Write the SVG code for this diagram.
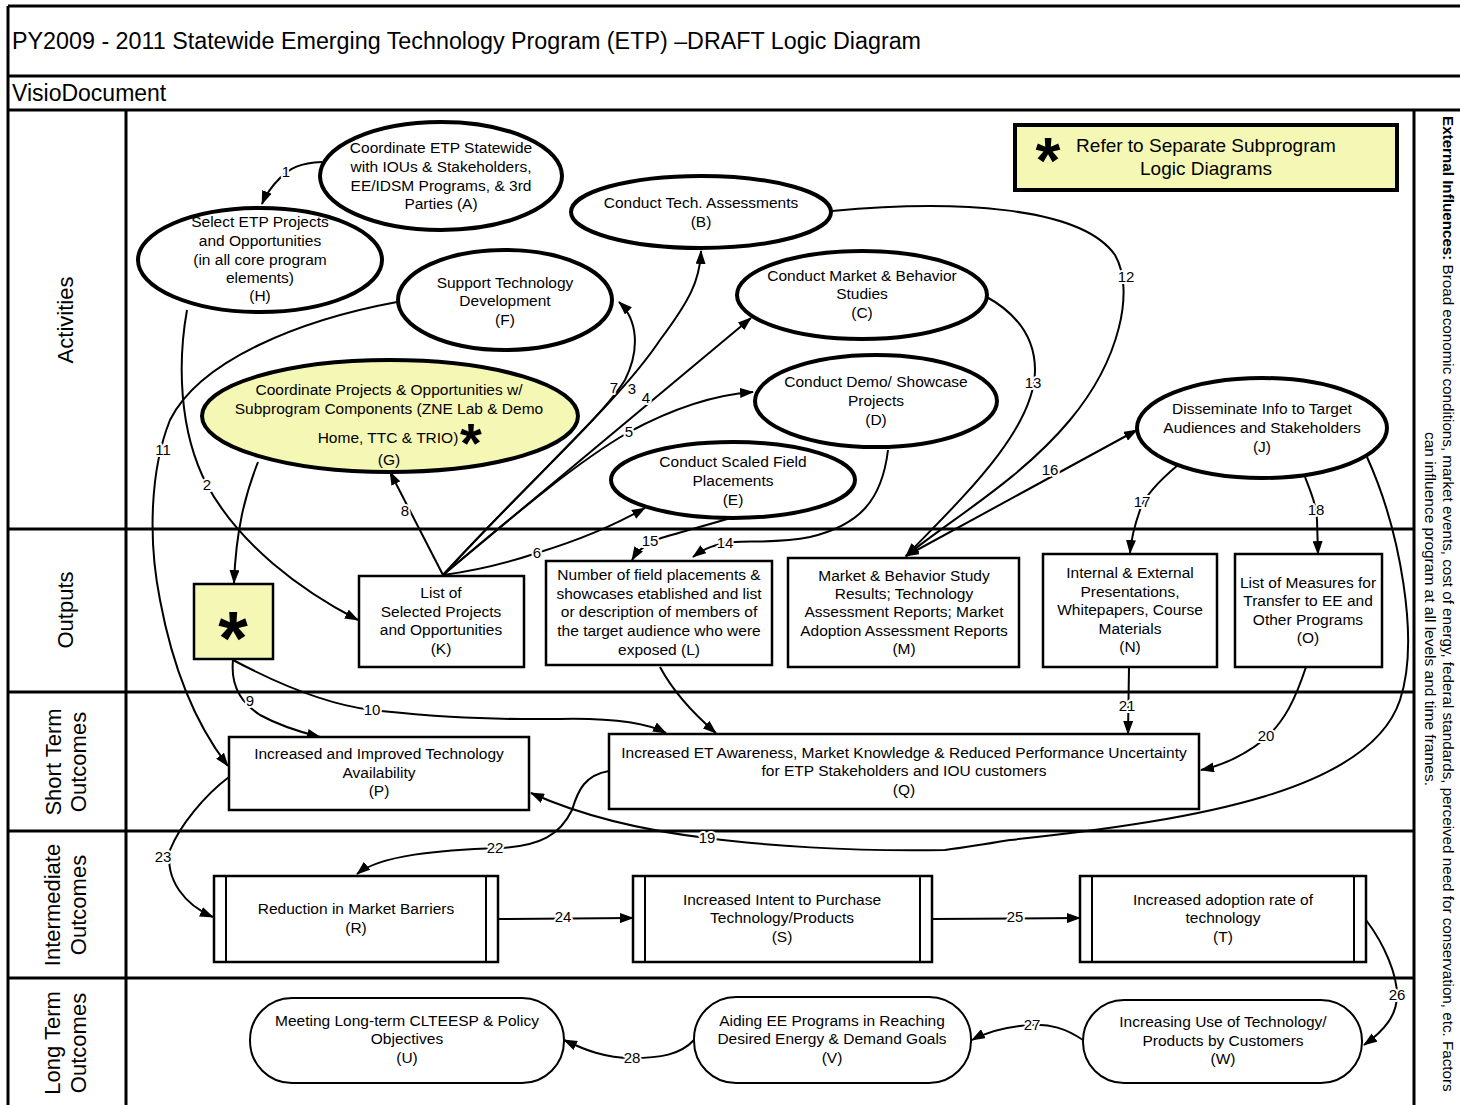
<svg xmlns="http://www.w3.org/2000/svg" width="1460" height="1105" viewBox="0 0 1460 1105">
<defs>
<marker id="ah" viewBox="0 0 14 10" refX="13" refY="5" markerWidth="14" markerHeight="10" markerUnits="userSpaceOnUse" orient="auto-start-reverse">
<path d="M0,0 L14,5 L0,10 Z" fill="#000"/>
</marker>
<style>
text{font-family:"Liberation Sans",Arial,sans-serif;fill:#000}
.t{font-size:15.5px;text-anchor:middle}
.lane{font-size:22px;text-anchor:middle}
.lbl{font-size:15px;text-anchor:middle;stroke:#fff;stroke-width:4px;paint-order:stroke;stroke-linejoin:round}
.act{fill:#fff;stroke:#000;stroke-width:4}
.yel{fill:#f5f7b5;stroke:#000;stroke-width:4}
.box{fill:#fff;stroke:#000;stroke-width:2.5}
.frame{fill:none;stroke:#000;stroke-width:3}
.c{fill:none;stroke:#000;stroke-width:2}
.ca{fill:none;stroke:#000;stroke-width:2;marker-end:url(#ah)}
.star{font-weight:bold;text-anchor:middle}
</style>
</defs>
<rect width="1460" height="1105" fill="#fff"/>
<!-- frame -->
<g id="frame">
<path class="frame" d="M8,6 H1460 M8,6 V1105 M8,76 H1460 M8,110 H1460 M126,110 V1105 M1414,110 V1105 M8,529 H1414 M8,692 H1414 M8,831 H1414 M8,978 H1414"/>
<text x="12" y="49" style="font-size:23.3px">PY2009 - 2011 Statewide Emerging Technology Program (ETP) –DRAFT Logic Diagram</text>
<text x="12" y="101" style="font-size:23px">VisioDocument</text>
<text class="lane" transform="translate(73,320) rotate(-90)">Activities</text>
<text class="lane" transform="translate(73,610) rotate(-90)">Outputs</text>
<text class="lane" transform="translate(61,762) rotate(-90)">Short Term</text>
<text class="lane" transform="translate(86,762) rotate(-90)">Outcomes</text>
<text class="lane" transform="translate(60,905) rotate(-90)">Intermediate</text>
<text class="lane" transform="translate(86,905) rotate(-90)">Outcomes</text>
<text class="lane" transform="translate(60,1043) rotate(-90)">Long Term</text>
<text class="lane" transform="translate(86,1043) rotate(-90)">Outcomes</text>
<text transform="translate(1443,116) rotate(90)" style="font-size:15.2px"><tspan font-weight="bold">External Influences:</tspan> Broad economic conditions, market events, cost of energy, federal standards, perceived need for conservation, etc. Factors</text>
<text transform="translate(1425,609) rotate(90)" style="font-size:15.5px;text-anchor:middle">can influence program at all levels and time frames.</text>
</g>
<!-- legend -->
<g id="legend">
<rect x="1015" y="125" width="382" height="65" class="yel"/>
<text class="star" x="1048" y="183" style="font-size:64px">*</text>
<text x="1206" y="152" style="font-size:19px;text-anchor:middle">Refer to Separate Subprogram</text>
<text x="1206" y="175" style="font-size:19px;text-anchor:middle">Logic Diagrams</text>
</g>
<!-- connectors -->
<g id="connectors">
<path class="ca" d="M322,162 C300,163 290,168 280,178 C272,186 266,194 262,204"/>
<path class="ca" d="M187,310 C178,360 178,430 207,485 C240,545 300,590 358,620"/>
<path class="ca" d="M443,575 C540,470 620,400 660,340 C690,300 700,280 701,251"/>
<path class="ca" d="M443,575 L751,318"/>
<path class="ca" d="M443,575 C520,510 580,460 629,432 C670,410 710,395 753,392"/>
<path class="ca" d="M443,575 C480,570 510,562 537,553 C580,540 615,525 645,508"/>
<path class="ca" d="M443,575 C530,480 600,420 625,380 C640,350 638,320 619,302"/>
<path class="ca" d="M443,575 L390,472"/>
<path class="ca" d="M233,660 C230,690 245,705 260,715 C280,726 300,732 320,737"/>
<path class="ca" d="M233,660 C280,685 330,705 372,710 C420,715 470,720 560,719 C610,718 645,722 666,733"/>
<path class="ca" d="M258,462 C245,495 236,530 234,583"/>
<path class="ca" d="M397,302 C300,320 200,360 170,420 C150,470 148,540 160,600 C175,680 200,730 228,766"/>
<path class="ca" d="M832,211 C950,200 1080,205 1115,255 C1135,290 1120,360 1070,420 C1020,480 950,520 906,556"/>
<path class="ca" d="M985,296 C1020,315 1035,340 1035,370 C1035,430 960,500 906,556"/>
<path class="ca" d="M888,450 C882,500 860,525 810,537 C780,543 750,541 735,542 C715,544 705,548 693,557"/>
<path class="ca" d="M731,518 C700,527 670,535 655,540 C645,545 638,550 632,560"/>
<path class="ca" style="marker-start:url(#ah)" d="M906,556 L1137,430"/>
<path class="ca" d="M1178,465 C1160,480 1145,495 1140,510 C1133,530 1131,540 1130,553"/>
<path class="ca" d="M1305,477 C1312,495 1316,505 1317,520 L1318,554"/>
<path class="ca" d="M660,667 C675,695 695,715 716,733"/>
<path class="ca" d="M1367,457 C1400,530 1420,640 1400,700 C1370,790 1200,820 1010,840 C980,845 960,848 945,850 C850,852 760,845 707,838 C640,830 580,815 531,793"/>
<path class="ca" d="M1306,667 C1295,700 1285,720 1266,738 C1245,755 1225,765 1201,770"/>
<path class="ca" d="M1129,667 L1128,734"/>
<path class="ca" d="M609,771 C585,775 578,790 572,810 C560,835 540,846 500,848 C440,850 380,855 357,874"/>
<path class="ca" d="M229,777 C205,795 180,825 170,850 C165,880 185,905 213,917"/>
<path class="ca" d="M498,919 L633,918"/>
<path class="ca" d="M932,919 L1080,918"/>
<path class="ca" d="M1366,920 C1385,945 1397,975 1397,995 C1397,1015 1385,1030 1364,1045"/>
<path class="ca" d="M1083,1040 C1065,1028 1050,1024 1032,1025 C1010,1026 990,1030 972,1040"/>
<path class="ca" d="M694,1040 C680,1055 660,1058 632,1058 C605,1058 585,1050 564,1040"/>
<text class="lbl" x="286" y="177">1</text>
<text class="lbl" x="207" y="490">2</text>
<text class="lbl" x="632" y="394">3</text>
<text class="lbl" x="646" y="403">4</text>
<text class="lbl" x="629" y="437">5</text>
<text class="lbl" x="537" y="558">6</text>
<text class="lbl" x="614" y="393">7</text>
<text class="lbl" x="405" y="516">8</text>
<text class="lbl" x="250" y="706">9</text>
<text class="lbl" x="372" y="715">10</text>
<text class="lbl" x="163" y="455">11</text>
<text class="lbl" x="1126" y="282">12</text>
<text class="lbl" x="1033" y="388">13</text>
<text class="lbl" x="725" y="548">14</text>
<text class="lbl" x="650" y="546">15</text>
<text class="lbl" x="1050" y="475">16</text>
<text class="lbl" x="1142" y="507">17</text>
<text class="lbl" x="1316" y="515">18</text>
<text class="lbl" x="707" y="843">19</text>
<text class="lbl" x="1266" y="741">20</text>
<text class="lbl" x="1127" y="711">21</text>
<text class="lbl" x="495" y="853">22</text>
<text class="lbl" x="163" y="862">23</text>
<text class="lbl" x="563" y="922">24</text>
<text class="lbl" x="1015" y="922">25</text>
<text class="lbl" x="1397" y="1000">26</text>
<text class="lbl" x="1032" y="1030">27</text>
<text class="lbl" x="632" y="1063">28</text>
</g>
<!-- activities -->
<g id="nodeA"><ellipse cx="441" cy="176" rx="121" ry="54" class="act"/>
<text class="t"><tspan x="441" y="153">Coordinate ETP Statewide</tspan><tspan x="441" y="172">with IOUs &amp; Stakeholders,</tspan><tspan x="441" y="191">EE/IDSM Programs, &amp; 3rd</tspan><tspan x="441" y="209">Parties (A)</tspan></text></g>
<g id="nodeH"><ellipse cx="260" cy="260" rx="122" ry="52" class="act"/>
<text class="t"><tspan x="260" y="227">Select ETP Projects</tspan><tspan x="260" y="246">and Opportunities</tspan><tspan x="260" y="265">(in all core program</tspan><tspan x="260" y="283">elements)</tspan><tspan x="260" y="301">(H)</tspan></text></g>
<g id="nodeF"><ellipse cx="505" cy="300" rx="107" ry="50" class="act"/>
<text class="t"><tspan x="505" y="288">Support Technology</tspan><tspan x="505" y="306">Development</tspan><tspan x="505" y="325">(F)</tspan></text></g>
<g id="nodeG"><ellipse cx="390" cy="416" rx="188" ry="56" class="yel"/>
<text class="t"><tspan x="389" y="395">Coordinate Projects &amp; Opportunities w/</tspan><tspan x="389" y="414">Subprogram Components (ZNE Lab &amp; Demo</tspan><tspan x="389" y="465">(G)</tspan></text>
<text class="t" x="388" y="443">Home, TTC &amp; TRIO)</text>
<text class="star" x="471" y="462" style="font-size:56px">*</text></g>
<g id="nodeB"><ellipse cx="701" cy="212" rx="130" ry="36" class="act"/>
<text class="t"><tspan x="701" y="208">Conduct Tech. Assessments</tspan><tspan x="701" y="227">(B)</tspan></text></g>
<g id="nodeC"><ellipse cx="862" cy="295" rx="125" ry="44" class="act"/>
<text class="t"><tspan x="862" y="281">Conduct Market &amp; Behavior</tspan><tspan x="862" y="299">Studies</tspan><tspan x="862" y="318">(C)</tspan></text></g>
<g id="nodeD"><ellipse cx="876" cy="401" rx="121" ry="46" class="act"/>
<text class="t"><tspan x="876" y="387">Conduct Demo/ Showcase</tspan><tspan x="876" y="406">Projects</tspan><tspan x="876" y="425">(D)</tspan></text></g>
<g id="nodeE"><ellipse cx="733" cy="480" rx="122" ry="38" class="act"/>
<text class="t"><tspan x="733" y="467">Conduct Scaled Field</tspan><tspan x="733" y="486">Placements</tspan><tspan x="733" y="505">(E)</tspan></text></g>
<g id="nodeJ"><ellipse cx="1262" cy="428" rx="125" ry="50" class="act"/>
<text class="t"><tspan x="1262" y="414">Disseminate Info to Target</tspan><tspan x="1262" y="433">Audiences and Stakeholders</tspan><tspan x="1262" y="452">(J)</tspan></text></g>
<!-- outputs -->
<g id="nodeStar"><rect x="194" y="584" width="79" height="75" class="box" style="fill:#f5f7b5"/>
<text class="star" x="233" y="664" style="font-size:76px">*</text></g>
<g id="nodeK"><rect x="359" y="576" width="165" height="91" class="box"/>
<text class="t"><tspan x="441" y="598">List of</tspan><tspan x="441" y="617">Selected Projects</tspan><tspan x="441" y="635">and Opportunities</tspan><tspan x="441" y="654">(K)</tspan></text></g>
<g id="nodeL"><rect x="546" y="561" width="226" height="104" class="box"/>
<text class="t"><tspan x="659" y="580">Number of field placements &amp;</tspan><tspan x="659" y="599">showcases etablished and list</tspan><tspan x="659" y="617">or description of members of</tspan><tspan x="659" y="636">the target audience who were</tspan><tspan x="659" y="655">exposed (L)</tspan></text></g>
<g id="nodeM"><rect x="788" y="558" width="231" height="109" class="box"/>
<text class="t"><tspan x="904" y="581">Market &amp; Behavior Study</tspan><tspan x="904" y="599">Results; Technology</tspan><tspan x="904" y="617">Assessment Reports; Market</tspan><tspan x="904" y="636">Adoption Assessment Reports</tspan><tspan x="904" y="654">(M)</tspan></text></g>
<g id="nodeN"><rect x="1043" y="554" width="174" height="113" class="box"/>
<text class="t"><tspan x="1130" y="578">Internal &amp; External</tspan><tspan x="1130" y="597">Presentations,</tspan><tspan x="1130" y="615">Whitepapers, Course</tspan><tspan x="1130" y="634">Materials</tspan><tspan x="1130" y="652">(N)</tspan></text></g>
<g id="nodeO"><rect x="1235" y="554" width="147" height="113" class="box"/>
<text class="t"><tspan x="1308" y="588">List of Measures for</tspan><tspan x="1308" y="606">Transfer to EE and</tspan><tspan x="1308" y="625">Other Programs</tspan><tspan x="1308" y="643">(O)</tspan></text></g>
<!-- short term -->
<g id="nodeP"><rect x="229" y="737" width="300" height="73" class="box"/>
<text class="t"><tspan x="379" y="759">Increased and Improved Technology</tspan><tspan x="379" y="778">Availability</tspan><tspan x="379" y="796">(P)</tspan></text></g>
<g id="nodeQ"><rect x="609" y="734" width="590" height="75" class="box"/>
<text class="t"><tspan x="904" y="758">Increased ET Awareness, Market Knowledge &amp; Reduced Performance Uncertainty</tspan><tspan x="904" y="776">for ETP Stakeholders and IOU customers</tspan><tspan x="904" y="795">(Q)</tspan></text></g>
<!-- intermediate -->
<g id="nodeR"><rect x="214" y="876" width="284" height="86" class="box"/><path d="M226,876 V962 M486,876 V962" class="c"/>
<text class="t"><tspan x="356" y="914">Reduction in Market Barriers</tspan><tspan x="356" y="933">(R)</tspan></text></g>
<g id="nodeS"><rect x="633" y="876" width="299" height="86" class="box"/><path d="M645,876 V962 M920,876 V962" class="c"/>
<text class="t"><tspan x="782" y="905">Increased Intent to Purchase</tspan><tspan x="782" y="923">Technology/Products</tspan><tspan x="782" y="942">(S)</tspan></text></g>
<g id="nodeT"><rect x="1080" y="876" width="286" height="86" class="box"/><path d="M1092,876 V962 M1354,876 V962" class="c"/>
<text class="t"><tspan x="1223" y="905">Increased adoption rate of</tspan><tspan x="1223" y="923">technology</tspan><tspan x="1223" y="942">(T)</tspan></text></g>
<!-- long term -->
<g id="nodeU"><rect x="250" y="998" width="314" height="85" rx="42" class="box" style="stroke-width:2"/>
<text class="t"><tspan x="407" y="1026">Meeting Long-term CLTEESP &amp; Policy</tspan><tspan x="407" y="1044">Objectives</tspan><tspan x="407" y="1063">(U)</tspan></text></g>
<g id="nodeV"><rect x="694" y="997" width="277" height="86" rx="42" class="box" style="stroke-width:2"/>
<text class="t"><tspan x="832" y="1026">Aiding EE Programs in Reaching</tspan><tspan x="832" y="1044">Desired Energy &amp; Demand Goals</tspan><tspan x="832" y="1063">(V)</tspan></text></g>
<g id="nodeW"><rect x="1083" y="1000" width="279" height="83" rx="41" class="box" style="stroke-width:2"/>
<text class="t"><tspan x="1223" y="1027">Increasing Use of Technology/</tspan><tspan x="1223" y="1046">Products by Customers</tspan><tspan x="1223" y="1064">(W)</tspan></text></g>
</svg>
